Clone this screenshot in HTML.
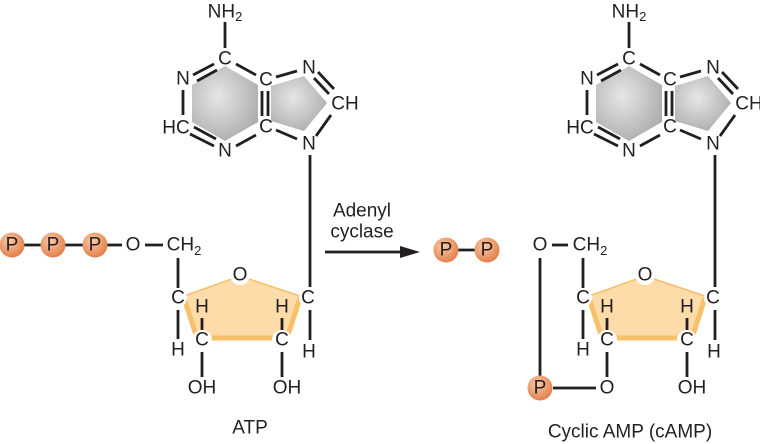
<!DOCTYPE html>
<html><head><meta charset="utf-8"><style>
html,body{margin:0;padding:0;background:#fff}
svg{display:block}
text{font-family:"Liberation Sans",sans-serif;font-size:19px;fill:#231f20;text-anchor:middle;dominant-baseline:central}
.l{stroke:#231f20;stroke-width:2.8;fill:none}
</style></head><body>
<svg width="760" height="444" viewBox="0 0 760 444" xmlns="http://www.w3.org/2000/svg">
<defs>
<radialGradient id="g" cx="0.4" cy="0.4" r="0.7"><stop offset="0" stop-color="#e6e6e6"/><stop offset="1" stop-color="#a9a9a9"/></radialGradient>
<radialGradient id="pg" cx="0.4" cy="0.35" r="0.7"><stop offset="0" stop-color="#fbc9a6"/><stop offset="1" stop-color="#e07b45"/></radialGradient>
<g id="base">
<polygon points="225,66 258,85 258,122 225,141 192,122 192,85" fill="url(#g)"/>
<polygon points="271,86 304,76 327,103 304,131 271,121" fill="url(#g)"/>
<line class="l" x1="225" y1="22" x2="225" y2="48"/>
<line class="l" x1="214" y1="64" x2="193" y2="75"/><line class="l" x1="217" y1="70" x2="197" y2="81"/>
<line class="l" x1="236" y1="64" x2="256" y2="75"/>
<line class="l" x1="183" y1="90" x2="183" y2="115"/>
<line class="l" x1="190" y1="134" x2="214" y2="146"/><line class="l" x1="194" y1="127" x2="216" y2="139"/>
<line class="l" x1="236" y1="146" x2="256" y2="135"/>
<line class="l" x1="262" y1="91" x2="262" y2="116"/><line class="l" x1="268" y1="91" x2="268" y2="116"/>
<line class="l" x1="276" y1="77" x2="297" y2="71"/>
<line class="l" x1="276" y1="130" x2="297" y2="139"/>
<line class="l" x1="314" y1="78" x2="329" y2="94"/><line class="l" x1="318" y1="72" x2="334" y2="89"/>
<line class="l" x1="316" y1="136" x2="331" y2="115"/>
<text x="225" y="12">NH<tspan font-size="13" dy="4">2</tspan></text>
<text x="225" y="59">C</text>
<text x="183" y="79">N</text>
<text x="266" y="80">C</text>
<text x="309" y="68">N</text>
<text x="345" y="104">CH</text>
<text x="176" y="128">HC</text>
<text x="266" y="127">C</text>
<text x="225" y="151">N</text>
<text x="309" y="144">N</text>
</g>
<g id="sugar">
<polygon points="240,276 300,296 287,337 197,337 184,296" fill="#fddcaa" stroke="#f5bf6b" stroke-width="1.5"/>
<polyline points="184,298 197,338 287,338 300,298" fill="none" stroke="#f7c16a" stroke-width="5"/>
<line class="l" x1="310" y1="155" x2="310" y2="287"/>
<line class="l" x1="178" y1="310" x2="178" y2="339"/>
<line class="l" x1="310" y1="310" x2="310" y2="340"/>
<line class="l" x1="202" y1="318" x2="202" y2="330"/>
<line class="l" x1="282" y1="318" x2="282" y2="330"/>
<line class="l" x1="282" y1="352" x2="282" y2="377"/>
<circle cx="240" cy="275" r="10" fill="#fff"/>
<circle cx="178" cy="298" r="9" fill="#fff"/>
<circle cx="308" cy="298" r="9" fill="#fff"/>
<circle cx="202" cy="340" r="10" fill="#fff"/>
<circle cx="282" cy="340" r="10" fill="#fff"/>
<text x="240" y="275">O</text>
<text x="178" y="298">C</text>
<text x="308" y="298">C</text>
<text x="202" y="307">H</text>
<text x="282" y="307">H</text>
<text x="202" y="340">C</text>
<text x="282" y="340">C</text>
<text x="178" y="350">H</text>
<text x="309" y="352">H</text>
<text x="287" y="388">OH</text>
</g>
</defs>

<use href="#base"/>
<use href="#sugar"/>
<line class="l" x1="178" y1="258" x2="178" y2="288"/>
<line class="l" x1="202" y1="352" x2="202" y2="377"/>
<text x="202" y="388">OH</text>
<line class="l" x1="22" y1="245" x2="42" y2="245"/>
<line class="l" x1="64" y1="245" x2="84" y2="245"/>
<line class="l" x1="106" y1="245" x2="122" y2="245"/>
<line class="l" x1="145" y1="245" x2="163" y2="245"/>
<circle cx="12" cy="245" r="12.5" fill="url(#pg)"/><text x="12" y="245">P</text>
<circle cx="53" cy="245" r="12.5" fill="url(#pg)"/><text x="53" y="245">P</text>
<circle cx="95" cy="245" r="12.5" fill="url(#pg)"/><text x="95" y="245">P</text>
<text x="133" y="245">O</text>
<text x="184" y="245">CH<tspan font-size="13" dy="5">2</tspan></text>
<text x="250" y="428">ATP</text>

<text x="362" y="211">Adenyl</text>
<text x="362" y="232">cyclase</text>
<line class="l" x1="325" y1="252" x2="402" y2="252"/>
<polygon points="400,246 420,252 400,258" fill="#231f20"/>
<line class="l" x1="455" y1="250" x2="478" y2="250"/>
<circle cx="446" cy="250" r="12.5" fill="url(#pg)"/><text x="446" y="250">P</text>
<circle cx="487" cy="250" r="12.5" fill="url(#pg)"/><text x="487" y="250">P</text>

<g transform="translate(404,0)"><use href="#base"/></g>
<g transform="translate(405,0)"><use href="#sugar"/></g>
<line class="l" x1="583" y1="258" x2="583" y2="288"/>
<line class="l" x1="607" y1="352" x2="607" y2="377"/>
<line class="l" x1="540" y1="258" x2="540" y2="376"/>
<line class="l" x1="552" y1="245" x2="568" y2="245"/>
<line class="l" x1="553" y1="388" x2="596" y2="388"/>
<text x="540" y="245">O</text>
<text x="590" y="245">CH<tspan font-size="13" dy="5">2</tspan></text>
<circle cx="540" cy="388" r="12.5" fill="url(#pg)"/><text x="540" y="388">P</text>
<text x="607" y="388">O</text>
<text x="630" y="432">Cyclic AMP (cAMP)</text>
</svg>
</body></html>
